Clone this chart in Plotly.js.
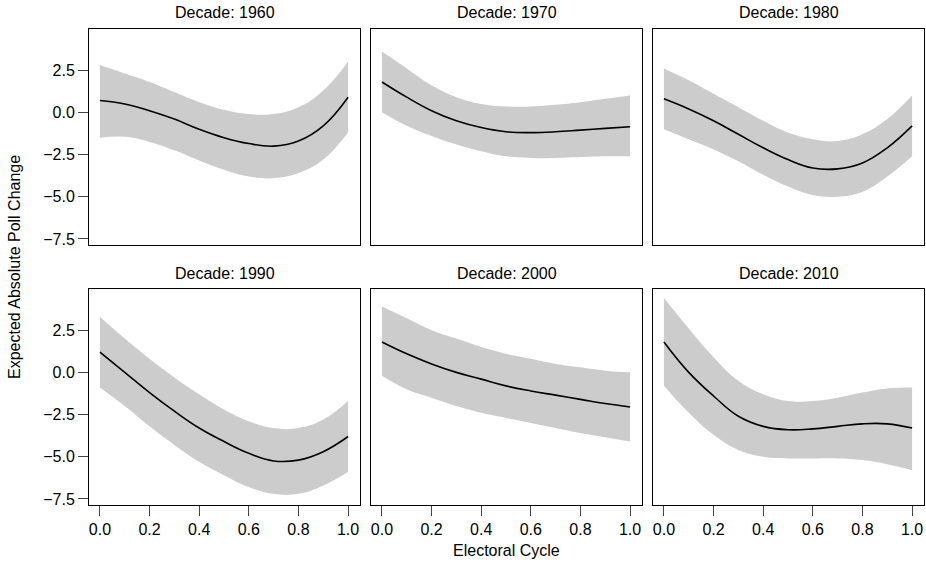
<!DOCTYPE html>
<html>
<head>
<script src="https://cdn.plot.ly/plotly-3.0.1.min.js"></script>
<style>body{margin:0}#plot{width:926px;height:563px}</style>
</head>
<body>
<div id="plot"></div>
<script>
const xs = [0, 0.1, 0.2, 0.3, 0.4, 0.5, 0.6, 0.7, 0.8, 0.9, 1.0];
const decades = ["1960", "1970", "1980", "1990", "2000", "2010"];

const mean1960 = [0.7, 0.5, 0.1, -0.4, -1.0, -1.5, -1.85, -2.0, -1.7, -0.8, 0.9];
const upper1960 = [2.8, 2.3, 1.8, 1.2, 0.6, 0.15, -0.1, -0.1, 0.3, 1.3, 3.0];
const lower1960 = [-1.5, -1.45, -1.75, -2.25, -2.85, -3.4, -3.8, -3.9, -3.6, -2.8, -1.2];

const mean1970 = [1.8, 0.9, 0.1, -0.5, -0.9, -1.15, -1.2, -1.15, -1.05, -0.95, -0.85];
const upper1970 = [3.6, 2.6, 1.6, 0.9, 0.5, 0.35, 0.35, 0.45, 0.6, 0.8, 1.0];
const lower1970 = [0.0, -0.8, -1.4, -1.9, -2.3, -2.6, -2.7, -2.7, -2.65, -2.6, -2.6];

const mean1980 = [0.8, 0.2, -0.5, -1.3, -2.1, -2.8, -3.3, -3.35, -3.0, -2.1, -0.8];
const upper1980 = [2.6, 1.9, 1.1, 0.3, -0.5, -1.2, -1.6, -1.7, -1.3, -0.4, 1.0];
const lower1980 = [-1.0, -1.6, -2.2, -2.9, -3.7, -4.4, -4.9, -5.0, -4.7, -3.8, -2.6];

const mean1990 = [1.2, 0.0, -1.2, -2.3, -3.3, -4.1, -4.8, -5.25, -5.2, -4.7, -3.8];
const upper1990 = [3.3, 2.0, 0.8, -0.3, -1.3, -2.2, -2.9, -3.3, -3.3, -2.8, -1.7];
const lower1990 = [-0.9, -2.0, -3.2, -4.3, -5.3, -6.1, -6.8, -7.2, -7.2, -6.7, -5.9];

const mean2000 = [1.8, 1.1, 0.5, 0.0, -0.4, -0.8, -1.1, -1.35, -1.6, -1.85, -2.05];
const upper2000 = [3.9, 3.2, 2.5, 2.0, 1.5, 1.1, 0.8, 0.5, 0.3, 0.1, 0.0];
const lower2000 = [-0.2, -1.0, -1.5, -2.0, -2.4, -2.7, -3.0, -3.3, -3.6, -3.85, -4.1];

const mean2010 = [1.8, 0.0, -1.4, -2.6, -3.2, -3.4, -3.35, -3.2, -3.05, -3.05, -3.3];
const upper2010 = [4.4, 2.6, 0.9, -0.5, -1.3, -1.7, -1.7, -1.5, -1.2, -0.95, -0.9];
const lower2010 = [-0.8, -2.4, -3.7, -4.6, -5.0, -5.1, -5.1, -5.1, -5.2, -5.45, -5.8];

const series = [
    [mean1960, upper1960, lower1960], [mean1970, upper1970, lower1970], [mean1980, upper1980, lower1980],
    [mean1990, upper1990, lower1990], [mean2000, upper2000, lower2000], [mean2010, upper2010, lower2010],
];

const W = 926, H = 563;
const colPx = [[89, 360], [371, 642], [653, 924]];
const rowPx = [[29, 245], [289, 505]];
const FONT = "Liberation Sans, Arial, sans-serif";

const traces = [];
const layout = {
    width: W, height: H, margin: { t: 0, r: 0, b: 0, l: 0 },
    paper_bgcolor: "white", plot_bgcolor: "white", showlegend: false,
    font: { family: FONT, size: 16, color: "#000" },
    annotations: [], shapes: [],
};

series.forEach(([m, up, lo], i) => {
    const r = Math.floor(i / 3), c = i % 3;
    const n = i + 1, xa = n === 1 ? "x" : "x" + n, ya = n === 1 ? "y" : "y" + n;
    const sm = { shape: "spline", smoothing: 1.2 };
    traces.push({ x: xs, y: up, xaxis: xa, yaxis: ya, mode: "lines", line: Object.assign({ width: 0, color: "#cccccc" }, sm), hoverinfo: "skip" });
    traces.push({ x: xs, y: lo, xaxis: xa, yaxis: ya, mode: "lines", fill: "tonexty", fillcolor: "#cccccc", line: Object.assign({ width: 0, color: "#cccccc" }, sm), hoverinfo: "skip" });
    traces.push({ x: xs, y: m, xaxis: xa, yaxis: ya, mode: "lines", line: Object.assign({ width: 1.6, color: "#000" }, sm) });

    const key = n === 1 ? "" : n;
    layout["xaxis" + key] = {
        domain: [colPx[c][0] / W, colPx[c][1] / W], range: [-0.044, 1.048], anchor: ya,
        showgrid: false, zeroline: false, showline: true, mirror: true, linecolor: "#000", linewidth: 1,
        tickvals: [0, 0.2, 0.4, 0.6, 0.8, 1.0], ticktext: ["0.0", "0.2", "0.4", "0.6", "0.8", "1.0"],
        ticks: r === 1 ? "outside" : "", ticklen: 10, showticklabels: r === 1,
        tickfont: { size: 16 },
    };
    layout["yaxis" + key] = {
        domain: [1 - rowPx[r][1] / H, 1 - rowPx[r][0] / H], range: [-7.86, 4.94], anchor: xa,
        showgrid: false, zeroline: false, showline: true, mirror: true, linecolor: "#000", linewidth: 1,
        tickvals: [2.5, 0, -2.5, -5, -7.5], ticktext: ["2.5", "0.0", "\u22122.5", "\u22125.0", "\u22127.5"],
        ticks: c === 0 ? "outside" : "", ticklen: 10, showticklabels: c === 0,
        tickfont: { size: 16 },
    };
    layout.annotations.push({
        text: "Decade: " + decades[i], xref: "paper", yref: "paper",
        x: (colPx[c][0] + colPx[c][1]) / 2 / W, y: 1 - (rowPx[r][0] - 16) / H,
        showarrow: false, font: { size: 16 }, xanchor: "center", yanchor: "middle",
    });
});

layout.annotations.push({
    text: "Expected Absolute Poll Change", xref: "paper", yref: "paper",
    x: 14 / W, y: 1 - 267 / H, textangle: -90, showarrow: false, font: { size: 16 },
    xanchor: "center", yanchor: "middle",
});
layout.annotations.push({
    text: "Electoral Cycle", xref: "paper", yref: "paper",
    x: 506 / W, y: 1 - 550 / H, showarrow: false, font: { size: 16 },
    xanchor: "center", yanchor: "middle",
});

Plotly.newPlot("plot", traces, layout, { displayModeBar: false, staticPlot: true });
</script>
</body>
</html>
